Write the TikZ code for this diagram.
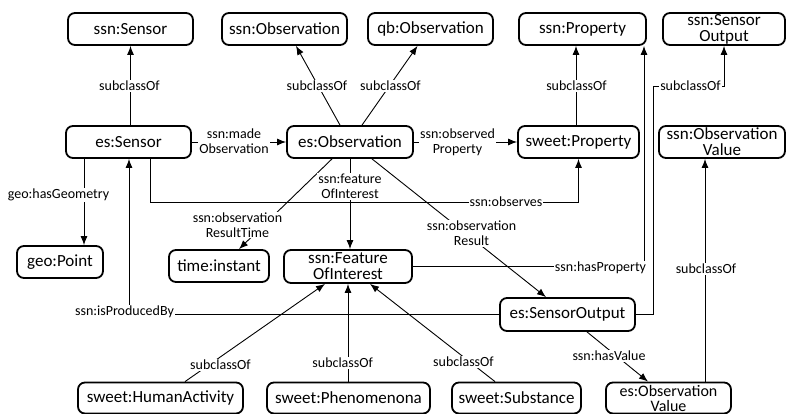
\documentclass[tikz,border=0pt]{standalone}
\usepackage{fontspec}
\setmainfont{Carlito}
\usetikzlibrary{arrows.meta}
\begin{document}
\begin{tikzpicture}[x=1pt,y=-1pt,
  box/.style={draw, line width=1.8pt, rounded corners=7pt, minimum height=32pt,
    inner sep=0pt, align=center, font=\fontsize{17}{16}\selectfont},
  conn/.style={line width=0.9pt, -{Latex[length=9pt,width=7pt]}},
  lbl/.style={fill=white, inner sep=1pt, align=center, font=\fontsize{14}{15}\selectfont}]
\useasboundingbox (0,0) rectangle (786,414);

% classes
\node[box, minimum width=125pt] (sSensor) at (130.5,29) {ssn:Sensor};
\node[box, minimum width=125pt] (sObs) at (284.5,29) {ssn:Observation};
\node[box, minimum width=125pt] (qbObs) at (430.5,29) {qb:Observation};
\node[box, minimum width=127pt] (sProp) at (582.5,29) {ssn:Property};
\node[box, minimum width=122pt] (sSO) at (724,29) {ssn:Sensor\\Output};
\node[box, minimum width=125pt] (esSensor) at (128.5,142) {es:Sensor};
\node[box, minimum width=126pt] (esObs) at (350,142) {es:Observation};
\node[box, minimum width=121pt] (swProp) at (578.5,142) {sweet:Property};
\node[box, minimum width=126pt] (sOV) at (722,142) {ssn:Observation\\Value};
\node[box, minimum width=86pt] (geoPoint) at (60,262) {geo:Point};
\node[box, minimum width=100pt] (timeInst) at (219,266) {time:instant};
\node[box, minimum width=128pt, minimum height=33pt] (FOI) at (348,266.5) {ssn:Feature\\OfInterest};
\node[box, minimum width=135pt, minimum height=33pt] (esSO) at (567.5,314.5) {es:SensorOutput};
\node[box, minimum width=165pt, minimum height=31pt] (swHA) at (160.5,398) {sweet:HumanActivity};
\node[box, minimum width=163pt, minimum height=31pt] (swPhen) at (348.5,398) {sweet:Phenomenona};
\node[box, minimum width=129pt, minimum height=31pt] (swSub) at (516.5,398) {sweet:Substance};
\node[box, minimum width=125pt, minimum height=31pt, font=\fontsize{16}{15}\selectfont] (esOV) at (668.5,398) {es:Observation\\Value};

% bend points
\coordinate (obsRow) at (0,202);
\coordinate (soBend) at (653,86);

% connectors
\draw[conn] (sSensor.south |- esSensor.north) -- (sSensor.south);
\draw[conn] ([xshift=-10pt]esObs.north) -- ([xshift=11.5pt]sObs.south);
\draw[conn] ([xshift=12pt]esObs.north) -- ([xshift=-13pt]qbObs.south);
\draw[conn] ([xshift=-2.5pt]swProp.north) -- ([xshift=-6.5pt]sProp.south);
\draw[conn] (esSensor.east) -- (esObs.west);
\draw[conn] (esObs.east) -- (swProp.west);
\draw[conn] ([xshift=21.5pt]esSensor.south) |- (swProp.south |- obsRow) -- (swProp.south);
\draw[conn] ([xshift=-44.5pt]esSensor.south) -- ([xshift=-44.5pt]esSensor.south |- geoPoint.north);
\draw[conn] (esSO.west) -| ([xshift=0.5pt]esSensor.south);
\draw[conn] (esObs.south) -- (esObs.south |- FOI.north);
\draw[conn] ([xshift=-18pt]esObs.south) -- ([xshift=20pt]timeInst.north);
\draw[conn] ([xshift=22pt]esObs.south) -- ([xshift=-21.5pt]esSO.north);
\draw[conn] (FOI.east) -| ([xshift=61.5pt]sProp.south);
\draw[conn] (esSO.east) -| (soBend) -| (sSO.south);
\draw[conn] ([xshift=36.5pt]esOV.north) -- ([xshift=-17pt]sOV.south);
\draw[conn] ([xshift=19.5pt]esSO.south) -- ([xshift=-20.5pt]esOV.north);
\draw[conn] ([xshift=24.5pt]swHA.north) -- ([xshift=-23pt]FOI.south);
\draw[conn] (swPhen.north -| FOI.south) -- (FOI.south);
\draw[conn] ([xshift=-21.5pt]swSub.north) -- ([xshift=22pt]FOI.south);

% connector labels
\node[lbl] (l1) at (129.5,86) {subclassOf};
\node[lbl] (l2) at (317,86) {subclassOf};
\node[lbl] (l3) at (390.5,86) {subclassOf};
\node[lbl] (l4) at (576.5,86) {subclassOf};
\node[lbl] (l5) at (690.5,86) {subclassOf};
\node[lbl] (l6) at (234,141.5) {ssn:made\\Observation};
\node[lbl] (l7) at (457.5,142) {ssn:observed\\Property};
\node[lbl] (l8) at (350,186.5) {ssn:feature\\OfInterest};
\node[lbl] (l9) at (58.5,195) {geo:hasGeometry};
\node[lbl] (l10) at (506,202) {ssn:observes};
\node[lbl] (l11) at (237.5,225) {ssn:observation\\ResultTime};
\node[lbl] (l12) at (471.5,233.5) {ssn:observation\\Result};
\node[lbl] (l13) at (600.5,267.5) {ssn:hasProperty};
\node[lbl] (l14) at (706,269) {subclassOf};
\node[lbl] (l15) at (124.5,312) {ssn:isProducedBy};
\node[lbl] (l16) at (609,356) {ssn:hasValue};
\node[lbl] (l17) at (220.5,365) {subclassOf};
\node[lbl] (l18) at (342.7,363) {subclassOf};
\node[lbl] (l19) at (463.5,362) {subclassOf};
\end{tikzpicture}
\end{document}
